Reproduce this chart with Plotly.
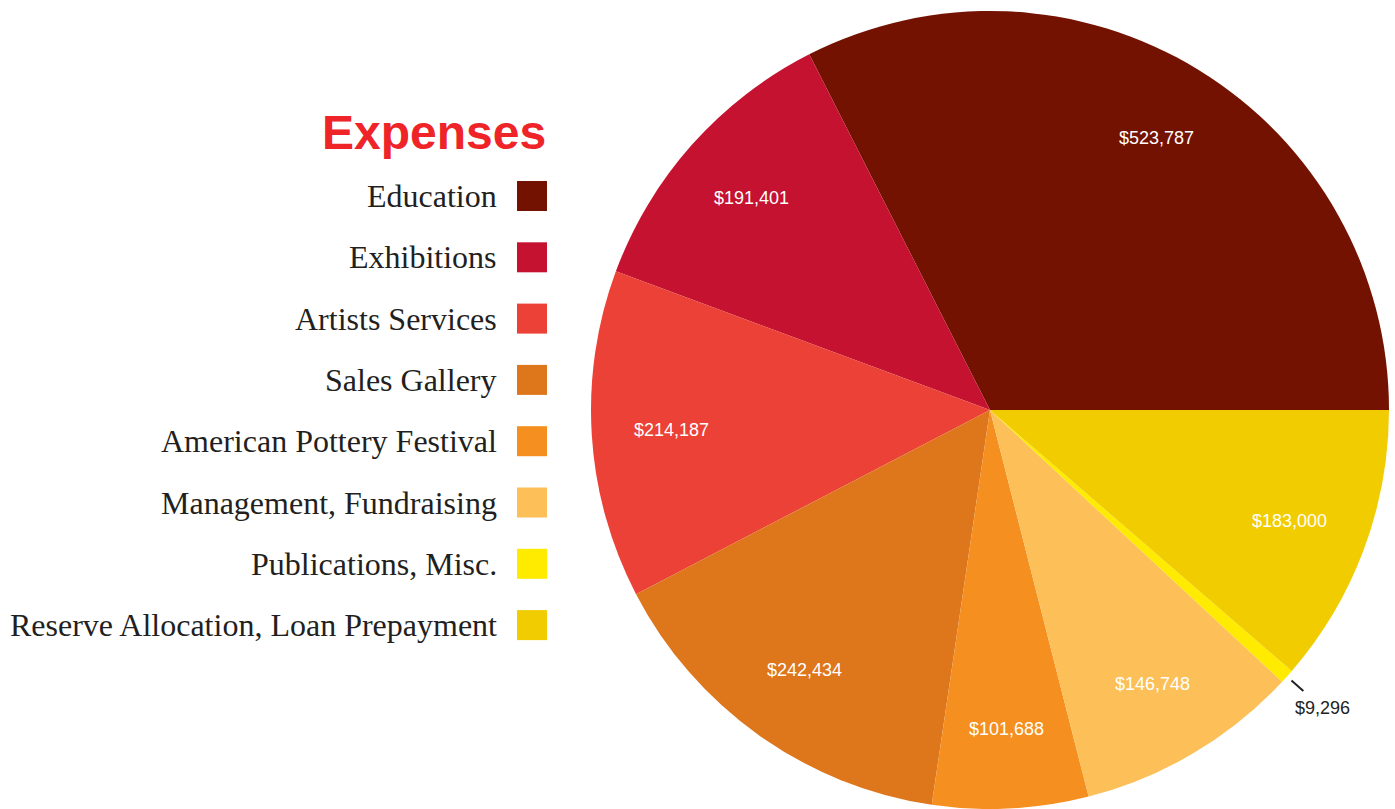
import math
import plotly.graph_objects as go

categories = ["Education", "Exhibitions", "Artists Services", "Sales Gallery",
              "American Pottery Festival", "Management, Fundraising",
              "Publications, Misc.", "Reserve Allocation, Loan Prepayment"]
values = [523787, 191401, 214187, 242434, 101688, 146748, 9296, 183000]
colors = ["#731200", "#c41230", "#ec4136", "#de761c", "#f48f20", "#fdbf57",
          "#ffeb00", "#f0cc00"]
outside = [False, False, False, False, False, False, True, False]
title_text = "Expenses"

W, H = 1395, 809
CX, CY, R = 990, 410, 399

total = sum(values)
# plotly (counterclockwise): first slice spans clockwise from `rotation`;
# we want the first slice to end at 3 o'clock going counterclockwise.
rotation = 90 - 360 * values[0] / total

fig = go.Figure(go.Pie(
    labels=categories, values=values, sort=False, direction="counterclockwise",
    rotation=rotation, marker=dict(colors=colors, line=dict(width=0)),
    textinfo="none", hoverinfo="label+value", showlegend=False,
    domain=dict(x=[(CX - R) / W, (CX + R) / W], y=[1 - (CY + R) / H, 1 - (CY - R) / H]),
))

annotations = []
shapes = []
cum = 0
for v, out in zip(values, outside):
    theta = 2 * math.pi * (cum + v / 2) / total
    cum += v
    c, s = math.cos(theta), math.sin(theta)
    label = "${:,}".format(v)
    if out:
        x0, y0 = CX + 1.015 * R * c, CY - 1.015 * R * s
        x1, y1 = CX + 1.055 * R * c, CY - 1.055 * R * s
        shapes.append(dict(type="line", xref="paper", yref="paper",
                           x0=x0 / W, y0=1 - y0 / H, x1=x1 / W, y1=1 - y1 / H,
                           line=dict(color="#222222", width=2)))
        px, py = CX + 1.12 * R * c, CY - 1.12 * R * s
        col = "#222222"
    else:
        px, py = CX + 0.8 * R * c, CY - 0.8 * R * s
        col = "#ffffff"
    annotations.append(dict(x=px / W, y=1 - py / H, xref="paper", yref="paper",
                            xanchor="center", yanchor="middle",
                            text=label, showarrow=False,
                            font=dict(family="Liberation Sans, Arial", size=18, color=col)))

# Legend (custom: right-aligned labels with swatches on the right)
annotations.append(dict(x=548 / W, y=1 - 132 / H, xref="paper", yref="paper",
                        xanchor="right", yanchor="middle", text="<b>" + title_text + "</b>",
                        showarrow=False,
                        font=dict(family="Liberation Sans, Arial", size=48, color="#ee2428")))
y_first, step = 196, 61.3
for i, (cat, col) in enumerate(zip(categories, colors)):
    yc = y_first + i * step
    annotations.append(dict(x=499 / W, y=1 - yc / H, xref="paper", yref="paper",
                            xanchor="right", yanchor="middle", text=cat, showarrow=False,
                            font=dict(family="Liberation Serif, Times New Roman", size=32,
                                      color="#231f20")))
    shapes.append(dict(type="rect", xref="paper", yref="paper",
                       x0=517 / W, x1=547 / W, y0=1 - (yc - 15) / H, y1=1 - (yc + 15) / H,
                       fillcolor=col, line=dict(width=0)))

fig.update_layout(width=W, height=H, margin=dict(l=0, r=0, t=0, b=0),
                  paper_bgcolor="white", plot_bgcolor="white",
                  annotations=annotations, shapes=shapes)
fig.write_html("out.html", config={"displayModeBar": False})

with open("out.html", "r", encoding="utf-8") as f:
    html = f.read()
html = html.replace("<body>", '<body style="margin:0;padding:0;overflow:hidden">', 1)
with open("out.html", "w", encoding="utf-8") as f:
    f.write(html)
